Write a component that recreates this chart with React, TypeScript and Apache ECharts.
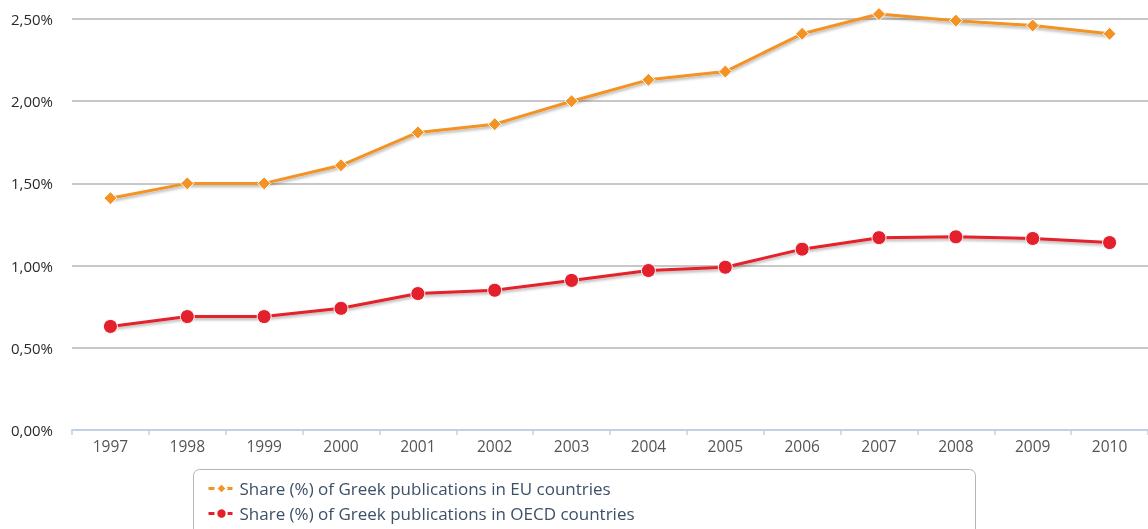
import React, { useEffect, useRef } from "react";
import * as echarts from "echarts";

const years = ["1997", "1998", "1999", "2000", "2001", "2002", "2003", "2004", "2005", "2006", "2007", "2008", "2009", "2010"];
const euShare = [1.41, 1.5, 1.5, 1.61, 1.81, 1.86, 2.0, 2.13, 2.18, 2.41, 2.53, 2.49, 2.46, 2.41];
const oecdShare = [0.63, 0.69, 0.69, 0.74, 0.83, 0.85, 0.91, 0.97, 0.99, 1.1, 1.17, 1.175, 1.165, 1.14];
const seriesNames = ["Share (%) of Greek publications in EU countries", "Share (%) of Greek publications in OECD countries"];

export default function App() {
  const ref = useRef<HTMLDivElement>(null);
  useEffect(() => {
    if (!ref.current) return;
    const chart = echarts.init(ref.current, undefined, { renderer: "svg" });
    const font = "'Open Sans', 'Noto Sans', sans-serif";
    const legendBase = {
      orient: "horizontal",
      left: 207,
      padding: 0,
      itemWidth: 26,
      itemHeight: 13,
      textStyle: { color: "#3d5068", fontSize: 17, fontFamily: font },
      lineStyle: { type: [6, 3], width: 3 },
    };
    chart.setOption({
      animation: false,
      textStyle: { fontFamily: font },
      grid: { left: 72, right: -2, top: 19, bottom: 99, containLabel: false },
      xAxis: {
        type: "category",
        data: years,
        boundaryGap: true,
        axisLine: { lineStyle: { color: "#c3d2e2", width: 2 } },
        axisTick: { show: true, length: 5, lineStyle: { color: "#c3d2e2", width: 1.5 } },
        axisLabel: { color: "#555555", fontSize: 15.5, margin: 8, fontFamily: font },
      },
      yAxis: {
        type: "value",
        min: 0,
        max: 2.5,
        interval: 0.5,
        axisLine: { show: false },
        axisTick: { show: false },
        splitLine: { lineStyle: { color: "#b4b4b4", width: 1.5 } },
        axisLabel: {
          color: "#2a2a2a",
          fontSize: 15,
          margin: 19,
          fontFamily: font,
          formatter: (v: number) => v.toFixed(2).replace(".", ",") + "%",
        },
      },
      legend: [
        { ...legendBase, top: 480, data: [seriesNames[0]] },
        { ...legendBase, top: 505, data: [seriesNames[1]] },
      ],
      graphic: [
        {
          type: "rect",
          shape: { x: 193.5, y: 469.5, width: 782, height: 80, r: 6 },
          style: { fill: "none", stroke: "#b5b5b5", lineWidth: 1 },
          z: -1,
        },
      ],
      series: [
        {
          name: seriesNames[0],
          type: "line",
          data: euShare,
          clip: false,
          symbol: "diamond",
          symbolSize: 13,
          lineStyle: { color: "#f39325", width: 3, shadowColor: "rgba(0,0,0,0.3)", shadowBlur: 3, shadowOffsetY: 2 },
          itemStyle: { color: "#f39325", borderColor: "#ffffff", borderWidth: 1 },
        },
        {
          name: seriesNames[1],
          type: "line",
          data: oecdShare,
          clip: false,
          symbol: "circle",
          symbolSize: 14,
          lineStyle: { color: "#e3202b", width: 3, shadowColor: "rgba(0,0,0,0.3)", shadowBlur: 3, shadowOffsetY: 2 },
          itemStyle: { color: "#e3202b", borderColor: "#ffffff", borderWidth: 1 },
        },
      ],
    });
    return () => chart.dispose();
  }, []);
  return <div ref={ref} style={{ position: "fixed", left: 0, top: 0, width: 1148, height: 529 }} />;
}
